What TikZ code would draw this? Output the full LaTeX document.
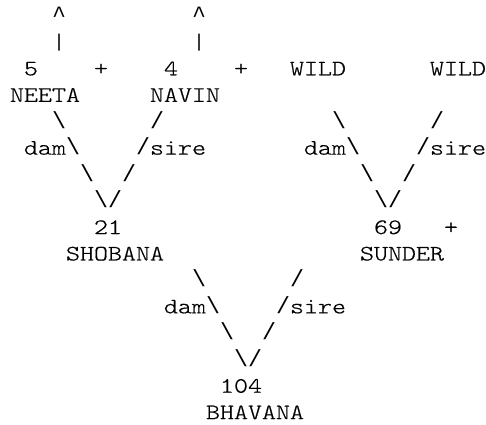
\documentclass[tikz,border=0pt]{standalone}
\usepackage{fontspec}
\newfontfamily\asciifont{lmmonolt10-regular}[Extension=.otf, FakeStretch=1.2121, FakeBold=0.6]
\newfontfamily\symfont{Liberation Mono}
\newcommand\mybs{{\symfont\fontsize{23.33}{26}\selectfont\textbackslash}}
\newcommand\myfs{{\symfont\fontsize{23.33}{26}\selectfont/}}
\newcommand\tk[4]{\node[tok] (#1) at ({10+14*#2},{-(75.3+(#3-3)*26.45)}) {#4};}
\begin{document}
\begin{tikzpicture}[x=1pt,y=1pt,
  tok/.style={anchor=base west, inner sep=0pt, outer sep=0pt, text=black,
    font=\asciifont\fontsize{22}{26}\selectfont},
  caret/.style={tok, font=\symfont\fontsize{23.33}{26}\selectfont}]
\useasboundingbox (0,0) rectangle (486,-424);
% line 1-2: upward arrows
\node[caret] (upA) at (10+14*3,-22.4) {\textasciicircum};
\node[caret] (upB) at (10+14*13,-22.4) {\textasciicircum};
\tk{barA}{3}{2}{|}
\tk{barB}{13}{2}{|}
% line 3
\tk{nFive}{1}{3}{5}
\tk{plusA}{6}{3}{+}
\tk{nFour}{11}{3}{4}
\tk{plusB}{16}{3}{+}
\tk{wildA}{20}{3}{WILD}
\tk{wildB}{30}{3}{WILD}
% line 4
\tk{neeta}{0}{4}{NEETA}
\tk{navin}{10}{4}{NAVIN}
% line 5
\tk{bsA}{3}{5}{\mybs}
\tk{slA}{10}{5}{\myfs}
\tk{bsB}{23}{5}{\mybs}
\tk{slB}{30}{5}{\myfs}
% line 6
\tk{damA}{1}{6}{dam\mybs}
\tk{sireA}{9}{6}{\myfs sire}
\tk{damB}{21}{6}{dam\mybs}
\tk{sireB}{29}{6}{\myfs sire}
% line 7
\tk{bsC}{5}{7}{\mybs}
\tk{slC}{8}{7}{\myfs}
\tk{bsD}{25}{7}{\mybs}
\tk{slD}{28}{7}{\myfs}
% line 8
\tk{vA}{6}{8}{\mybs\myfs}
\tk{vB}{26}{8}{\mybs\myfs}
% line 9-10
\tk{n21}{6}{9}{21}
\tk{n69}{26}{9}{69}
\tk{plusC}{31}{9}{+}
\tk{shobana}{4}{10}{SHOBANA}
\tk{sunder}{25}{10}{SUNDER}
% line 11-14
\tk{bsE}{13}{11}{\mybs}
\tk{slE}{20}{11}{\myfs}
\tk{damC}{11}{12}{dam\mybs}
\tk{sireC}{19}{12}{\myfs sire}
\tk{bsF}{15}{13}{\mybs}
\tk{slF}{18}{13}{\myfs}
\tk{vC}{16}{14}{\mybs\myfs}
% line 15-16
\tk{n104}{15}{15}{104}
\tk{bhavana}{14}{16}{BHAVANA}
\end{tikzpicture}
\end{document}
